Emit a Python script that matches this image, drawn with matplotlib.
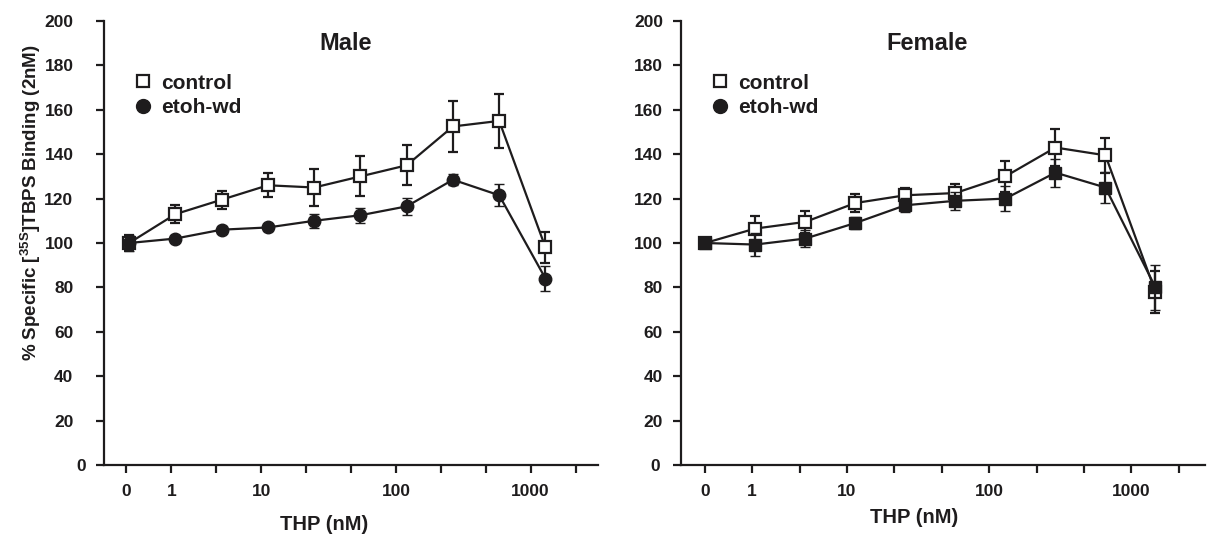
import numpy as np
import matplotlib
matplotlib.use("Agg")
import matplotlib.pyplot as plt
import matplotlib.transforms as mtransforms
from matplotlib.lines import Line2D

# doses (nM) - plotted at evenly spaced positions
dose_ticks = ["0", "1", "", "10", "", "", "100", "", "", "1000", ""]

# Male
male_control = [100, 113, 119.5, 126, 125, 130, 135, 152.5, 155, 98]
male_control_err = [3.5, 4, 4, 5.5, 8.5, 9, 9, 11.5, 12, 7]
male_etoh = [100, 102, 106, 107, 110, 112.5, 116.5, 128.5, 121.5, 84]
male_etoh_err = [3.5, 1.5, 1.5, 1.5, 3.2, 3.4, 3.9, 2.5, 4.9, 5.5]

# Female
female_control = [100, 106.5, 109.5, 118, 121.5, 122.5, 130, 143, 139.5, 78]
female_control_err = [1.5, 5.5, 4.8, 4.2, 3.5, 4, 7, 8.5, 8, 9.5]
female_etoh = [100, 99.3, 102, 109, 117, 119, 120, 131.7, 125, 80]
female_etoh_err = [1.5, 5, 4, 2.5, 3.2, 4, 5.7, 6.3, 7, 10]

INK = "#1e1c1d"
plt.rcParams["font.family"] = ["Liberation Sans", "DejaVu Sans"]
plt.rcParams["font.weight"] = "bold"
plt.rcParams["mathtext.fontset"] = "custom"
plt.rcParams["mathtext.rm"] = "Liberation Sans:bold"
plt.rcParams["mathtext.bf"] = "Liberation Sans:bold"


def style_axis(ax, xmax, ypad, zero_shift):
    ax.set_xlim(-0.5, xmax)
    ax.set_ylim(0, 200)
    for s in ["top", "right"]:
        ax.spines[s].set_visible(False)
    for s in ["left", "bottom"]:
        ax.spines[s].set_linewidth(1.6)
        ax.spines[s].set_color(INK)
    ax.set_xticks(np.arange(len(dose_ticks)))
    ax.set_xticklabels(dose_ticks)
    ax.set_yticks(np.arange(0, 201, 20))
    ax.tick_params(axis="both", direction="out", length=6, width=1.6, color=INK,
                   labelsize=12.5, labelcolor=INK)
    ax.tick_params(axis="y", pad=ypad)
    ax.tick_params(axis="x", pad=8)
    for lab in ax.get_yticklabels() + ax.get_xticklabels():
        lab.set_fontweight("bold")
    # the zero label is offset from the others in the original
    lab0 = ax.get_yticklabels()[0]
    lab0.set_transform(lab0.get_transform() + mtransforms.ScaledTranslation(
        zero_shift / 100, 0, ax.figure.dpi_scale_trans))


def draw(ax, x, ctrl, ctrl_err, etoh, etoh_err, etoh_marker):
    ax.errorbar(x, ctrl, yerr=ctrl_err, color=INK, lw=1.6, marker="s", ms=8.5,
                mfc="white", mec=INK, mew=1.6, capsize=3.5, capthick=1.6,
                elinewidth=1.6, zorder=3)
    ax.errorbar(x, etoh, yerr=etoh_err, color=INK, lw=1.6, marker=etoh_marker,
                ms=9 if etoh_marker == "o" else 8.5, mfc=INK, mec=INK, mew=1.0,
                capsize=3.5, capthick=1.6, elinewidth=1.6, zorder=4)


def legend(ax, x0):
    handles = [
        Line2D([], [], ls="none", marker="s", ms=9, mfc="white", mec=INK, mew=1.6),
        Line2D([], [], ls="none", marker="o", ms=10, mfc=INK, mec=INK),
    ]
    ax.legend(handles, ["control", "etoh-wd"], loc="upper left",
              bbox_to_anchor=(x0, 0.905), frameon=False, borderpad=0,
              handlelength=0.8, handletextpad=0.5, labelspacing=0.28,
              prop={"size": 15, "weight": "bold"}, labelcolor=INK)


fig = plt.figure(figsize=(12.07, 5.37), dpi=100)
ax1 = fig.add_axes([104 / 1207, 1 - 465 / 537, 494 / 1207, 444 / 537])
ax2 = fig.add_axes([681 / 1207, 1 - 465 / 537, 524 / 1207, 444 / 537])

idx = np.arange(len(male_control))
draw(ax1, idx * 1.03 + 0.06, male_control, male_control_err,
     male_etoh, male_etoh_err, "o")
draw(ax2, idx * 1.055 + 0.01, female_control, female_control_err,
     female_etoh, female_etoh_err, "s")

style_axis(ax1, 10.5, 16, 13)
style_axis(ax2, 10.55, 7, -3)

ax1.text(0.49, 0.95, "Male", transform=ax1.transAxes, ha="center", va="center",
         fontsize=17, fontweight="bold", color=INK)
ax2.text(0.47, 0.95, "Female", transform=ax2.transAxes, ha="center", va="center",
         fontsize=17, fontweight="bold", color=INK)

legend(ax1, 0.04)
legend(ax2, 0.038)

ax1.set_xlabel("THP (nM)", fontsize=14.5, fontweight="bold", color=INK)
ax1.xaxis.set_label_coords(0.446, -0.112)
ax2.set_xlabel("THP (nM)", fontsize=14.5, fontweight="bold", color=INK)
ax2.xaxis.set_label_coords(0.445, -0.097)

fig.text(31 / 1207, 1 - 203 / 537,
         r"% Specific [$^{\mathbf{35S}}$]TBPS Binding (2nM)",
         rotation=90, ha="center", va="center", fontsize=13.5, fontweight="bold",
         color=INK)

fig.savefig("out.png", dpi=100)
